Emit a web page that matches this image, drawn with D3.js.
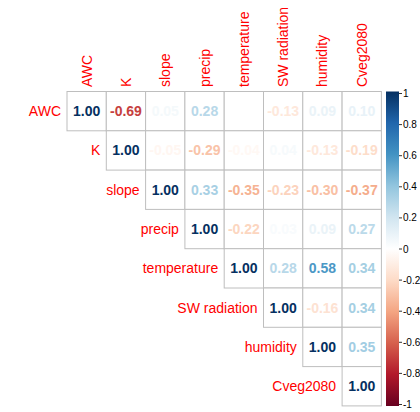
<!DOCTYPE html>
<html><head><meta charset="utf-8">
<script src="https://cdn.jsdelivr.net/npm/d3@7"></script>
<style>body{margin:0;background:#fff}svg{display:block}text{font-family:"Liberation Sans",Arial,sans-serif}</style>
</head><body>
<svg id="c" width="420" height="412"></svg>
<script>
const variables = ["AWC","K","slope","precip","temperature","SW radiation","humidity","Cveg2080"];
// upper-triangle rows (starting at the diagonal)
const rowAWC = [1.00,-0.69,0.05,0.28,0.00,-0.13,0.09,0.10];
const rowK = [1.00,-0.05,-0.29,-0.04,0.04,-0.13,-0.19];
const rowSlope = [1.00,0.33,-0.35,-0.23,-0.30,-0.37];
const rowPrecip = [1.00,-0.22,0.03,0.09,0.27];
const rowTemperature = [1.00,0.28,0.58,0.34];
const rowSW = [1.00,-0.16,0.34];
const rowHumidity = [1.00,0.35];
const rowCveg = [1.00];
const rows = [rowAWC,rowK,rowSlope,rowPrecip,rowTemperature,rowSW,rowHumidity,rowCveg];
const legendTicks = [1,0.8,0.6,0.4,0.2,0,-0.2,-0.4,-0.6,-0.8,-1];
const palette = ["#67001F","#B2182B","#D6604D","#F4A582","#FDDBC7","#FFFFFF","#D1E5F0","#92C5DE","#4393C3","#2166AC","#053061"];

const svg = d3.select("#c");
const x = d3.scaleBand().domain(variables).range([67, 381.4]);
const y = d3.scaleBand().domain(variables).range([91.5, 405.9]);
const color = d3.scaleLinear().domain(d3.range(11).map(i => -1 + i*0.2)).range(palette).interpolate(d3.interpolateRgb);

const cells = [];
rows.forEach((r, i) => r.forEach((v, k) => cells.push({row: variables[i], col: variables[i+k], v})));

svg.append("g").selectAll("rect").data(cells).join("rect")
  .attr("x", d => x(d.col)).attr("y", d => y(d.row))
  .attr("width", x.bandwidth()).attr("height", y.bandwidth())
  .attr("fill", "#fff").attr("stroke", "#bebebe").attr("stroke-width", 1);

svg.append("g").selectAll("text").data(cells).join("text")
  .attr("x", d => x(d.col) + x.bandwidth()/2).attr("y", d => y(d.row) + y.bandwidth()/2)
  .attr("text-anchor", "middle").attr("dominant-baseline", "central")
  .attr("font-size", 14).attr("font-weight", "bold")
  .attr("fill", d => color(d.v))
  .text(d => d.v.toFixed(2));

// column labels
svg.append("g").selectAll("text").data(variables).join("text")
  .attr("transform", d => `translate(${x(d) + x.bandwidth()/2 + 5},87) rotate(-90)`)
  .attr("fill", "#ff0000").attr("font-size", 14)
  .text(d => d);

// row labels
svg.append("g").selectAll("text").data(variables).join("text")
  .attr("x", d => x(d) - 6).attr("y", d => y(d) + y.bandwidth()/2)
  .attr("text-anchor", "end").attr("dominant-baseline", "central")
  .attr("fill", "#ff0000").attr("font-size", 14)
  .text(d => d);

// color legend
const defs = svg.append("defs");
const grad = defs.append("linearGradient").attr("id","g").attr("x1",0).attr("y1",1).attr("x2",0).attr("y2",0);
palette.forEach((c, i) => grad.append("stop").attr("offset", i/10).attr("stop-color", c));
svg.append("rect").attr("x", 386).attr("y", 91.5).attr("width", 13).attr("height", 314.5).attr("fill", "url(#g)");
const ly = d3.scaleLinear().domain([-1, 1]).range([404.5, 93.5]);
const lg = svg.append("g");
lg.selectAll("line").data(legendTicks).join("line")
  .attr("x1", 399).attr("x2", 402).attr("y1", d => ly(d)).attr("y2", d => ly(d))
  .attr("stroke", "#333");
lg.selectAll("text").data(legendTicks).join("text")
  .attr("x", 403).attr("y", d => ly(d)).attr("dominant-baseline", "central")
  .attr("font-size", 10).attr("fill", "#000")
  .text(d => String(d));
</script>
</body></html>
